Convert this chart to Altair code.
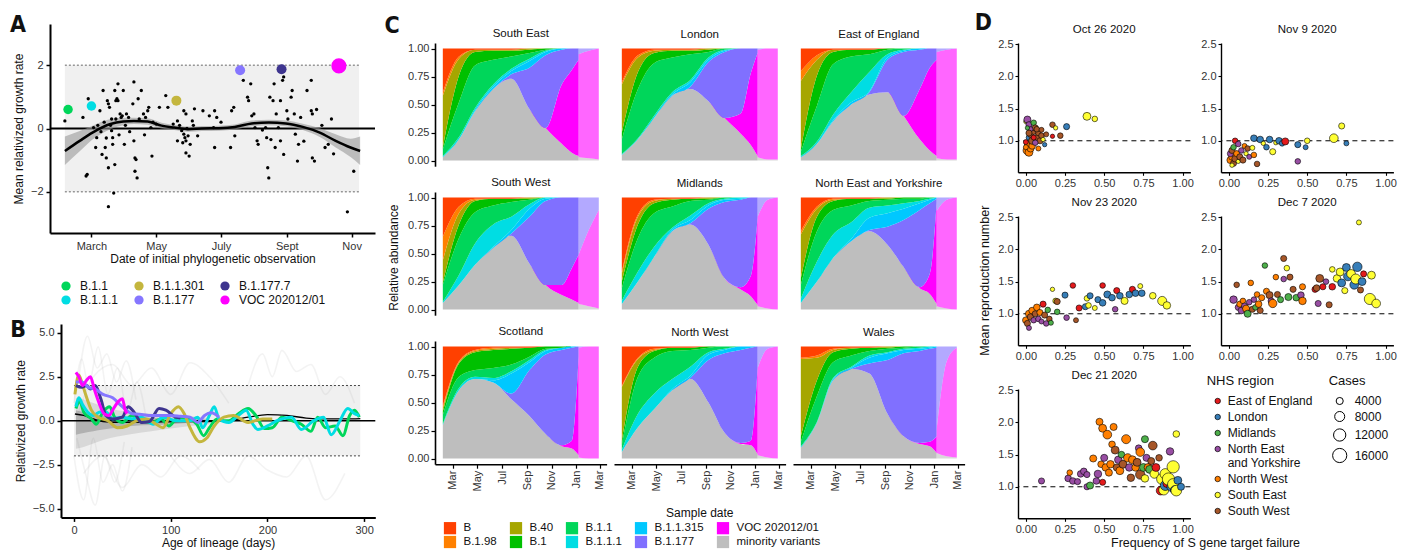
import altair as alt
import pandas as pd

FONT = "Liberation Sans"
LFONT = "'Liberation Sans Narrow', 'DejaVu Sans Condensed', 'Liberation Sans', sans-serif"
TXT = "#111111"
LAB = "#333333"

# ======================= Panel A data =======================
A_DAY = [35,52,57,55,56,62,64,65,71,68,70,73,74,75,76,77,76,76,79,81,82,83,84,85,82,80,79,80,85,87,
         88,89,91,90,93,95,99,100,100,101,102,101,103,104,107,109,111,113,114,116,117,121,124,130,132,137,141,141,145,147,
         148,149,151,147,149,149,152,155,157,160,165,175,176,178,176,191,192,194,195,203,207,208,210,211,213,214,216,217,224,225,
         226,227,228,231,232,234,233,236,238,238,240,241,241,244,248,249,251,252,254,255,263,267,267,268,268,270,280,283,286,301,307,
         66,69,72,74,78,83,86,92,96,105,110,118,143,146,150,153,156,171,182,221,229,245,257,260,272,277,288]
A_VAL = [0.24,0.35,0.94,-1.50,-1.45,0.03,-0.60,-0.29,1.20,0.56,-0.82,-0.60,-0.93,0.88,0.78,0.67,-1.24,-2.47,0.30,-2.04,
         1.20,0.88,0.94,0.88,-1.14,-0.29,-0.07,-0.50,1.41,0.46,0.35,0.40,-0.50,1.20,0.46,0.35,0.78,1.47,-0.39,-0.93,
         -0.98,-1.35,-1.56,0.94,1.20,0.46,0.35,0.56,0.67,0.03,-0.87,0.14,0.67,1.04,0.67,0.14,0.24,-0.39,-0.07,-0.18,
         -0.29,-0.39,-0.23,0.56,0.46,-0.77,-0.87,0.24,0.62,-0.23,0.56,0.03,0.56,0.35,-0.60,-0.60,0.56,0.67,-0.23,1.52,
         0.99,0.88,1.41,0.40,0.46,0.03,-0.39,-0.50,0.03,-0.29,-1.24,-1.56,0.99,0.88,1.41,0.46,-0.60,0.03,0.88,-0.39,
         1.52,1.63,-0.82,0.56,0.99,1.20,0.46,-0.18,-1.03,-0.50,1.20,1.52,0.56,0.46,-0.93,-1.03,-0.60,-0.50,0.30,-2.63,-1.35,
         0.10,-0.10,0.20,-0.30,0.10,0.30,-0.20,0.10,-0.10,0.30,-0.20,0.20,0.10,-0.45,0.00,-0.50,0.10,0.40,0.20,-0.05,
         -0.35,0.30,0.35,-0.40,0.60,0.10,-0.80]
A_BAND_DAYS = [35, 312]
FIT_DAY = [35, 49, 61, 78, 90, 100, 113, 126, 138, 151, 164, 180, 195, 211, 227, 243, 259, 275, 290, 304, 313]
FIT_VAL = [-0.71, -0.39, -0.13, 0.14, 0.22, 0.24, 0.22, 0.09, 0.03, -0.02, 0.0, 0.01, 0.05, 0.16, 0.19, 0.16, 0.05, -0.13, -0.39, -0.60, -0.71]
FIT_LO = [-1.15, -0.72, -0.35, -0.02, 0.10, 0.14, 0.12, 0.0, -0.05, -0.10, -0.08, -0.07, -0.03, 0.07, 0.10, 0.07, -0.05, -0.27, -0.60, -0.90, -1.15]
FIT_HI = [-0.25, -0.08, 0.09, 0.30, 0.34, 0.34, 0.32, 0.18, 0.11, 0.06, 0.08, 0.09, 0.13, 0.25, 0.28, 0.25, 0.15, 0.01, -0.18, -0.32, -0.25]
A_TICK_DAYS = [60, 121, 182, 244, 305]
A_TICK_LABELS = ["March", "May", "July", "Sept", "Nov"]

LIN_NAME = ["B.1.1", "B.1.1.1", "B.1.1.301", "B.1.177", "B.1.177.7", "VOC 202012/01"]
LIN_COLORS = ["#00d65a", "#00dde3", "#c4b63e", "#8676ff", "#3e358f", "#ff00ff"]
LIN_DAY = [38, 60, 140, 200, 239, 293]
LIN_VAL = [0.60, 0.71, 0.88, 1.84, 1.87, 1.98]
LIN_SIZE = [90, 90, 100, 100, 100, 230]

# ======================= Panel B data =======================
B_LINES = {
    "B.1.1": ([2,6,10,18,23,30,37,42,50,60,70,80,90,98,108,120,127,134,140,148,155,160,170,180,188,197,205,215,225,235,245,252,260,270,278,285,290,295],
              [0.7,1.1,0.5,0.1,-0.2,0.5,0.8,0.2,-0.1,0.3,0.0,-0.1,0.1,-0.3,0.2,0.1,-0.2,-0.85,-0.4,0.1,0.0,0.0,0.4,0.7,0.3,-0.45,-0.4,0.2,0.0,-0.2,-0.6,0.2,-0.4,-0.3,-0.85,0.3,0.6,0.2]),
    "B.1.1.1": ([2,5,9,14,20,27,33,40,50,60,70,82,92,105,120,128,133,140,145,150,160,170,178,185,190,200,210,225,235,248,258,266,275,283,290,295],
                [0.8,1.3,0.9,0.5,0.3,0.5,0.5,0.1,0.2,0.1,0.2,-0.2,0.2,0.0,0.0,0.2,-0.4,0.3,0.8,0.1,-0.1,0.3,0.6,-0.2,-0.5,-0.3,0.0,0.2,-0.5,0.0,0.2,-0.8,0.0,0.7,0.4,0.3]),
    "B.1.1.301": ([1,5,8,12,18,25,35,45,55,65,75,85,92,100,108,114,120,130,137,145,155,165,180,195,205],
                  [1.5,2.6,2.2,1.5,0.6,0.2,0.0,-0.4,-0.3,0.0,0.1,-0.2,-0.4,0.4,0.8,0.4,-0.4,-1.2,-1.0,-0.3,0.2,0.3,-0.1,0.1,0.1]),
    "B.1.177.7": ([2,8,13,17,22,28,33,40,50,56,62,70,78,88,95,105,110],
                  [2.0,1.9,2.0,1.8,2.0,1.2,0.3,0.1,0.2,0.8,0.5,-0.1,-0.05,0.7,0.6,0.2,0.15]),
    "B.1.177": ([2,8,15,22,30,40,50,60,70,80,90,100,110,120,128,135,142,150],
                [2.2,2.2,1.9,1.8,1.5,1.3,0.8,0.4,0.35,0.3,0.3,0.3,0.25,0.2,-0.1,0.3,0.45,0.2]),
    "VOC 202012/01": ([2,5,9,13,17,21,26,31,36,41,46,50,53,55],
                      [2.75,2.5,2.0,2.3,2.5,1.8,1.0,0.4,0.3,0.7,1.1,1.25,0.6,0.4]),
}
B_MEAN_AGE = [1, 10, 20, 30, 50, 80, 110, 140, 160, 180, 200, 220, 240, 260, 280, 296]
B_MEAN_VAL = [0.38, 0.3, 0.1, -0.05, -0.1, -0.08, -0.05, -0.05, 0.0, 0.2, 0.35, 0.3, 0.15, 0.1, 0.1, 0.12]
B_GRAY_LINES = {
    "g1": ([0,8,15,25,35,45,55,65,75], [1.0,3.5,2.0,4.2,1.5,3.0,0.5,2.2,0.0]),
    "g2": ([0,10,20,30,40,50,60], [-2.0,-4.5,-1.0,-3.5,-2.5,-4.0,-1.5]),
    "g3": ([5,20,40,60,80,100,120,140,160], [0.5,2.5,3.2,2.0,3.0,1.5,3.3,2.5,1.0]),
    "g4": ([100,120,140,160,180,200,220,240,260,280], [-2.0,-3.0,-2.2,-3.5,-2.0,-2.8,-3.2,-2.0,-4.5,-3.0]),
    "g5": ([180,195,205,215,230,245,260,275,290], [2.0,3.8,2.5,4.0,2.8,3.2,1.5,2.5,1.0]),
    "g6": ([10,30,50,70,90,110,130], [-3.0,-2.0,-3.8,-2.5,-3.2,-2.0,-2.8]),
    "g7": ([3,12,22,32,42,52], [-1.0,-3.0,-4.8,-2.0,-3.5,-1.2]),
    "g8": ([4,14,24,34,44,54,64], [2.0,4.8,3.0,3.8,2.2,3.4,1.2]),
}
B_CLOUD_AGE = [2, 10, 20, 30, 45, 60, 80, 100, 120, 140]
B_CLOUD_LO = [-1.6, -1.5, -1.3, -1.1, -0.9, -0.75, -0.6, -0.45, -0.3, -0.2]
B_CLOUD_HI = [1.3, 1.2, 1.0, 0.8, 0.6, 0.5, 0.4, 0.3, 0.25, 0.15]
B_CORE_LO = [-0.8, -0.7, -0.6, -0.5, -0.4, -0.3, -0.25, -0.2, -0.12, -0.08]
B_CORE_HI = [0.6, 0.5, 0.4, 0.3, 0.22, 0.18, 0.15, 0.12, 0.1, 0.06]
B_BAND_AGES = [0, 296]

# ======================= Panel C data =======================
C_REGIONS = ["South East", "London", "East of England", "South West", "Midlands",
             "North East and Yorkshire", "Scotland", "North West", "Wales"]
C_STACK = ["minority variants", "VOC 202012/01", "B.1.177", "B.1.1.315", "B.1.1.1",
           "B.1.1", "B.1", "B.40", "B.1.98", "B"]
C_LEGEND_ORDER = ["B", "B.1.98", "B.40", "B.1", "B.1.1", "B.1.1.1", "B.1.1.315",
                  "B.1.177", "VOC 202012/01", "minority variants"]
C_LEGEND_COLORS = ["#ff4000", "#ff8000", "#a6a600", "#00c000", "#00d65a", "#00dde3",
                   "#00c8ff", "#8070ff", "#ff00ff", "#bebebe"]
C_T_OBS = [35, 75, 115, 160, 205, 250, 290, 330, 355, 372]
C_T_PROJ = [372, 397, 422]
C_TICK_DAYS = [60, 121, 182, 244, 305, 366, 425]
C_TICK_LABELS = ["Mar", "May", "Jul", "Sep", "Nov", "Jan", "Mar"]

C_SHARES = {
    "South East": {
        "B": [39,7,1,1,1,0,0,0,0,0], "B.1.98": [3,2,0,0,0,0,0,0,0,0], "B.40": [46,15,2,1,1,1,0,0,0,0],
        "B.1": [2,24,12,8,5,3,1,0,0,0], "B.1.1": [6,31,38,22,11,5,1,0,0,0], "B.1.1.1": [1,2,2,2,2,2,1,0,0,0],
        "B.1.1.315": [0,0,1,2,3,6,3,1,0,0], "B.1.177": [0,0,0,0,4,37,65,31,19,10],
        "VOC 202012/01": [0,0,0,0,0,0,0,53,74,86], "minority variants": [3,19,44,64,73,46,29,15,7,4]},
    "London": {
        "B": [30,6,1,1,1,0,0,0,0,0], "B.1.98": [2,2,1,0,0,0,0,0,0,0], "B.40": [43,13,2,1,1,1,0,0,0,0],
        "B.1": [6,15,9,6,3,2,0,0,0,0], "B.1.1": [13,44,47,31,23,5,1,0,0,0], "B.1.1.1": [1,1,2,2,2,2,1,0,0,0],
        "B.1.1.315": [0,0,0,1,4,2,1,0,0,0], "B.1.177": [0,0,0,0,2,35,59,58,22,4],
        "VOC 202012/01": [0,0,0,0,0,0,0,18,64,92], "minority variants": [5,19,38,58,64,53,38,24,14,4]},
    "East of England": {
        "B": [20,6,1,1,1,0,0,0,0,0], "B.1.98": [9,4,0,0,0,0,0,0,0,0], "B.40": [61,14,2,0,0,0,0,0,0,0],
        "B.1": [2,27,11,6,4,1,0,0,0,0], "B.1.1": [4,32,45,32,16,4,1,0,0,0], "B.1.1.1": [1,2,5,9,17,3,1,0,0,0],
        "B.1.1.315": [0,0,1,2,1,2,1,1,0,0], "B.1.177": [0,0,0,0,2,29,57,35,17,10],
        "VOC 202012/01": [0,0,0,0,0,0,0,45,74,86], "minority variants": [3,15,35,50,59,61,40,19,9,4]},
    "South West": {
        "B": [35,8,1,1,1,0,0,0,0,0], "B.1.98": [21,6,1,0,0,0,0,0,0,0], "B.40": [20,10,1,0,0,1,0,0,0,0],
        "B.1": [2,12,10,6,3,1,0,0,0,0], "B.1.1": [15,33,28,17,13,4,0,0,0,0], "B.1.1.1": [1,9,19,20,12,4,1,0,0,0],
        "B.1.1.315": [0,0,0,1,3,7,2,0,0,0], "B.1.177": [0,0,0,0,2,42,75,78,63,51],
        "VOC 202012/01": [0,0,0,0,0,0,0,9,28,43], "minority variants": [6,22,40,55,66,41,22,13,9,6]},
    "Midlands": {
        "B": [66,15,2,1,1,0,0,0,0,0], "B.1.98": [2,2,1,0,0,0,0,0,0,0], "B.40": [7,7,2,1,0,1,0,0,0,0],
        "B.1": [6,12,9,6,2,1,0,0,0,0], "B.1.1": [11,30,30,19,13,3,1,0,0,0], "B.1.1.1": [3,9,9,2,4,2,1,1,0,0],
        "B.1.1.315": [0,0,0,1,3,3,2,1,0,0], "B.1.177": [0,0,0,0,1,32,68,78,70,18],
        "VOC 202012/01": [0,0,0,0,0,0,0,2,18,78], "minority variants": [5,25,47,70,76,58,28,18,12,4]},
    "North East and Yorkshire": {
        "B": [30,8,1,1,1,0,0,0,0,0], "B.1.98": [3,2,1,0,0,0,0,0,0,0], "B.40": [39,7,1,0,0,1,0,0,0,0],
        "B.1": [6,13,8,6,2,1,1,1,0,0], "B.1.1": [12,27,22,15,6,5,4,2,1,0], "B.1.1.1": [4,18,21,15,9,7,5,2,1,0],
        "B.1.1.315": [0,0,0,2,11,12,10,6,3,1], "B.1.177": [0,0,0,0,1,16,42,69,63,4],
        "VOC 202012/01": [0,0,0,0,0,0,0,1,18,90], "minority variants": [6,25,46,61,70,58,38,19,14,5]},
    "Scotland": {
        "B": [53,13,3,1,1,1,0,0,0,0], "B.1.98": [2,1,1,1,0,0,0,0,0,0], "B.40": [3,1,1,1,1,0,0,0,0,0],
        "B.1": [3,12,16,16,14,8,2,1,0,0], "B.1.1": [8,10,6,9,6,3,1,0,0,0], "B.1.1.1": [1,2,2,2,2,2,1,0,0,0],
        "B.1.1.315": [0,0,0,2,18,7,3,2,1,0], "B.1.177": [0,0,0,0,5,41,71,85,83,9],
        "VOC 202012/01": [0,0,0,0,0,0,0,1,7,88], "minority variants": [30,61,71,68,53,38,22,11,9,3]},
    "North West": {
        "B": [35,10,2,1,1,0,0,0,0,0], "B.1.98": [1,1,1,0,0,0,0,0,0,0], "B.40": [48,7,1,0,0,0,0,0,0,0],
        "B.1": [4,9,6,3,2,1,0,0,0,0], "B.1.1": [4,33,32,25,15,4,2,0,0,0], "B.1.1.1": [2,12,14,9,8,2,1,0,0,0],
        "B.1.1.315": [0,0,0,1,2,5,3,3,1,0], "B.1.177": [0,0,0,0,1,38,71,83,83,19],
        "VOC 202012/01": [0,0,0,0,0,0,0,1,4,77], "minority variants": [6,28,44,61,71,50,23,13,12,4]},
    "Wales": {
        "B": [10,8,2,1,1,0,0,0,0,0], "B.1.98": [1,2,1,0,0,0,0,0,0,0], "B.40": [69,20,2,1,0,1,0,0,0,0],
        "B.1": [5,14,9,6,3,1,1,0,0,0], "B.1.1": [4,23,14,10,4,3,1,1,0,0], "B.1.1.1": [1,1,1,1,2,1,1,1,1,0],
        "B.1.1.315": [0,0,1,1,5,6,3,2,1,1], "B.1.177": [0,0,0,0,9,48,74,82,83,79],
        "VOC 202012/01": [0,0,0,0,0,0,0,1,4,15], "minority variants": [10,32,70,80,76,40,20,13,11,5]},
}
C_PROJ = {
    "South East": {"minority variants": [3,2,1], "VOC 202012/01": [92,96,99], "B.1.177": [5,2,0]},
    "London": {"minority variants": [3,1,1], "VOC 202012/01": [96,99,99], "B.1.177": [1,0,0]},
    "East of England": {"minority variants": [2,1,1], "VOC 202012/01": [95,98,99], "B.1.177": [3,1,0]},
    "South West": {"minority variants": [5,3,1], "VOC 202012/01": [44,68,88], "B.1.177": [51,29,11]},
    "Midlands": {"minority variants": [3,1,0], "VOC 202012/01": [80,97,100], "B.1.177": [17,2,0]},
    "North East and Yorkshire": {"minority variants": [3,1,0], "VOC 202012/01": [85,97,100], "B.1.177": [12,2,0]},
    "Scotland": {"minority variants": [1,0,0], "VOC 202012/01": [98,100,100], "B.1.177": [1,0,0]},
    "North West": {"minority variants": [3,1,0], "VOC 202012/01": [78,97,100], "B.1.177": [19,2,0]},
    "Wales": {"minority variants": [5,2,1], "VOC 202012/01": [20,85,98], "B.1.177": [75,13,1]},
}

# ======================= Panel D data =======================
D_REGION_CODES = {"E": "East of England", "L": "London", "M": "Midlands", "N": "North East and Yorkshire",
                  "W": "North West", "S": "South East", "SW": "South West"}
D_REGION_ORDER = ["East of England", "London", "Midlands", "North East and Yorkshire",
                  "North West", "South East", "South West"]
D_REGION_COLORS = ["#e41a1c", "#377eb8", "#4daf4a", "#984ea3", "#ff7f00", "#ffff33", "#a65628"]
D_CASE_TICKS = [4000, 8000, 12000, 16000]
D_POINTS = {
    "Oct 26 2020": [(0.00,1.30,"S",1500),(0.01,1.33,"N",4000),(0.02,1.25,"N",3000),(0.05,1.28,"M",2500),
        (0.01,0.85,"W",6000),(0.02,0.82,"W",5000),(0.03,0.88,"W",4000),(0.01,0.95,"W",3000),(0.04,0.92,"W",3500),
        (0.00,0.98,"E",2000),(0.02,1.05,"L",2500),(0.03,1.10,"SW",3000),(0.05,1.15,"SW",3500),(0.06,1.20,"SW",3000),
        (0.07,1.05,"SW",3000),(0.08,1.12,"SW",2500),(0.09,1.00,"SW",3000),(0.10,1.08,"SW",2500),(0.04,1.00,"SW",4000),
        (0.06,0.97,"N",2500),(0.03,1.18,"N",2000),(0.02,1.12,"SW",3000),(0.05,1.05,"E",2000),(0.07,1.18,"SW",2500),
        (0.11,1.02,"S",1500),(0.12,0.94,"L",1500),(0.13,1.10,"SW",2000),(0.17,1.07,"E",1500),(0.17,1.25,"SW",2500),
        (0.19,1.20,"S",1500),(0.22,1.08,"SW",2500),(0.26,1.22,"L",3000),(0.39,1.38,"S",5000),(0.44,1.34,"S",2500),
        (0.00,0.90,"W",2000),(0.08,0.88,"W",2000),(0.01,1.20,"M",1500),(0.10,1.17,"SW",2000)],
    "Nov 9 2020": [(0.01,0.70,"W",4000),(0.02,0.75,"W",3500),(0.01,0.80,"N",3000),(0.03,0.65,"SW",3000),
        (0.02,0.85,"SW",3000),(0.04,0.72,"SW",3500),(0.05,0.80,"W",3000),(0.03,0.90,"M",2500),(0.04,1.00,"E",2500),
        (0.06,0.68,"S",1500),(0.07,0.75,"SW",3000),(0.08,0.85,"N",2500),(0.09,0.70,"SW",3000),(0.10,0.92,"W",2000),
        (0.11,0.80,"S",1500),(0.12,0.88,"SW",2500),(0.02,0.62,"S",1500),(0.06,0.95,"N",2500),(0.13,0.75,"N",2000),
        (0.15,0.89,"S",2000),(0.16,0.78,"W",2500),(0.16,1.04,"L",3500),(0.18,0.64,"SW",2500),(0.20,1.02,"L",3500),
        (0.22,0.96,"S",1500),(0.24,0.90,"L",2500),(0.26,1.02,"L",3500),(0.28,0.83,"S",3000),(0.30,0.97,"S",1500),
        (0.32,1.00,"L",3500),(0.34,0.96,"L",2500),(0.36,0.99,"E",4000),(0.44,0.94,"L",3000),(0.44,0.68,"N",2500),
        (0.49,0.90,"L",2000),(0.50,1.00,"S",2500),(0.67,1.04,"S",6000),(0.72,1.23,"S",3000),(0.75,0.96,"L",2000)],
    "Nov 23 2020": [(0.00,0.90,"W",3500),(0.01,0.85,"SW",3000),(0.02,1.00,"W",4000),(0.03,0.95,"SW",3500),
        (0.04,1.05,"W",3500),(0.05,0.90,"N",2500),(0.02,0.78,"N",2000),(0.06,1.00,"SW",3000),(0.07,1.10,"W",3500),
        (0.08,0.92,"N",2500),(0.09,1.02,"W",3000),(0.10,0.88,"N",2000),(0.11,1.15,"E",3000),(0.12,0.98,"SW",3000),
        (0.13,0.85,"N",2500),(0.14,1.06,"M",2500),(0.15,0.92,"SW",2500),(0.16,0.86,"M",2000),(0.17,1.38,"S",1500),
        (0.19,1.20,"S",2500),(0.20,1.19,"SW",3000),(0.20,1.03,"M",2500),(0.25,1.29,"L",3000),(0.26,0.94,"N",2500),
        (0.30,1.44,"E",2500),(0.32,0.90,"SW",2000),(0.34,1.09,"E",3000),(0.38,1.11,"L",3000),(0.39,1.24,"S",2500),
        (0.40,1.13,"S",2500),(0.41,1.28,"L",3000),(0.44,1.09,"S",2000),(0.46,1.22,"L",3000),(0.49,1.44,"E",2500),
        (0.49,1.17,"L",3500),(0.52,1.30,"L",4000),(0.55,1.25,"L",3500),(0.57,1.07,"N",2500),(0.58,1.36,"E",3000),
        (0.60,1.28,"L",3500),(0.63,1.20,"S",4000),(0.66,1.30,"L",3500),(0.68,1.38,"E",3000),(0.70,1.32,"L",3500),
        (0.73,1.43,"S",2000),(0.74,1.32,"L",3500),(0.81,1.28,"S",3500),(0.87,1.20,"S",6500),(0.90,1.13,"S",4500)],
    "Dec 7 2020": [(0.03,1.22,"N",4500),(0.05,1.45,"SW",2500),(0.06,1.10,"N",3000),(0.07,1.15,"W",3000),
        (0.08,1.05,"N",3500),(0.09,1.20,"W",2500),(0.10,1.12,"N",3000),(0.11,1.08,"W",4000),(0.12,1.00,"M",4000),
        (0.13,1.18,"N",2500),(0.14,1.48,"W",2500),(0.15,1.07,"SW",3000),(0.16,1.22,"N",2500),(0.17,1.10,"M",2500),
        (0.18,1.30,"W",2500),(0.19,1.15,"W",3500),(0.20,1.05,"SW",3000),(0.21,1.25,"W",3000),(0.23,1.75,"M",2500),
        (0.24,1.35,"W",3000),(0.26,1.29,"SW",4000),(0.27,1.20,"N",3000),(0.28,1.16,"W",5500),(0.30,1.57,"W",2500),
        (0.31,1.30,"SW",3000),(0.33,1.22,"M",3000),(0.35,1.86,"SW",3000),(0.35,1.54,"N",2500),(0.37,1.71,"S",2500),
        (0.38,1.26,"M",4000),(0.39,1.57,"SW",3000),(0.41,1.38,"SW",3000),(0.43,1.25,"M",3500),(0.46,1.29,"N",3500),
        (0.47,1.42,"W",3000),(0.47,1.20,"W",4500),(0.55,1.38,"E",3000),(0.56,1.40,"SW",3500),(0.57,1.16,"N",3000),
        (0.58,1.55,"SW",5000),(0.60,1.42,"E",3000),(0.62,1.50,"N",2500),(0.64,1.14,"SW",3000),(0.66,1.69,"S",2500),
        (0.66,1.42,"E",3500),(0.69,1.55,"S",4500),(0.71,1.65,"S",5000),(0.72,1.48,"L",5000),(0.74,1.36,"S",3000),
        (0.75,1.72,"L",5000),(0.76,1.58,"L",6000),(0.78,1.62,"S",6000),(0.80,1.45,"L",6000),(0.81,1.54,"S",8000),
        (0.82,1.73,"L",7000),(0.83,2.42,"S",2000),(0.84,1.37,"SW",3000),(0.85,1.50,"L",5000),(0.86,1.62,"E",3000),
        (0.90,1.23,"S",10000),(0.91,1.60,"S",5000),(0.94,1.16,"S",6000)],
    "Dec 21 2020": [(0.10,1.09,"N",3000),(0.27,1.13,"N",3500),(0.28,1.22,"W",2500),(0.30,1.09,"N",3500),
        (0.33,1.08,"N",3000),(0.35,1.20,"N",3500),(0.37,1.24,"N",3500),(0.39,1.00,"N",3000),(0.39,1.19,"N",3000),
        (0.41,1.02,"M",4000),(0.43,1.44,"W",4000),(0.45,1.09,"N",3500),(0.46,1.20,"N",4500),(0.47,2.01,"W",4000),
        (0.48,1.35,"W",3500),(0.49,1.07,"E",3000),(0.49,1.91,"W",5000),(0.50,1.45,"N",4000),(0.51,1.30,"W",4500),
        (0.52,1.81,"W",6000),(0.53,1.22,"W",4000),(0.54,1.35,"W",4500),(0.55,1.66,"W",3500),(0.56,1.93,"W",4000),
        (0.57,1.57,"SW",5000),(0.58,1.30,"SW",4000),(0.59,1.42,"N",4500),(0.60,1.25,"W",5000),(0.61,1.50,"M",3500),
        (0.62,1.35,"SW",5000),(0.64,1.74,"W",6500),(0.65,1.45,"W",5500),(0.66,1.30,"N",4500),(0.67,1.14,"SW",4500),
        (0.68,1.42,"W",5000),(0.70,1.30,"W",4500),(0.71,1.38,"SW",5000),(0.72,1.60,"N",3500),(0.73,1.54,"W",6000),
        (0.73,1.19,"SW",7000),(0.75,1.30,"M",5000),(0.76,1.13,"S",4500),(0.76,1.74,"M",4000),(0.77,1.45,"N",4000),
        (0.78,1.30,"W",5000),(0.79,1.27,"M",5000),(0.80,1.40,"SW",4000),(0.81,1.64,"SW",6000),(0.82,1.20,"S",6000),
        (0.83,1.30,"E",5000),(0.85,1.45,"SW",3500),(0.86,0.94,"E",6000),(0.87,1.12,"S",10000),(0.88,0.95,"S",8000),
        (0.89,1.02,"L",8000),(0.89,1.20,"S",9000),(0.90,1.05,"E",5000),(0.91,1.12,"S",12000),(0.92,1.55,"N",4500),
        (0.93,1.00,"L",7000),(0.94,1.31,"S",12000),(0.94,1.04,"S",10000),(0.95,0.95,"L",6000),(0.96,0.94,"S",9000),
        (0.96,1.82,"S",3500),(0.97,1.10,"L",5000),(0.99,1.00,"L",4000)],
}

# ======================= helpers =======================
def mkaxis(**kw):
    base = dict(domainColor="black", tickColor="black", labelColor=LAB, titleColor=TXT,
                labelFont=FONT, titleFont=FONT, labelFontSize=11, titleFontSize=12,
                titleFontWeight="normal", grid=False)
    base.update(kw)
    return alt.Axis(**base)


def label_expr(vals, labels):
    s = "''"
    for v, l in reversed(list(zip(vals, labels))):
        s = f"datum.value == {v} ? '{l}' : ({s})"
    return s


def text_layer(txt, x, y, size=12, angle=0, weight="normal", font=FONT, align="center", baseline="middle"):
    kw = dict(fontSize=size, font=font, fontWeight=weight, align=align, baseline=baseline, color=TXT)
    if angle:
        kw["angle"] = angle
    return alt.Chart(pd.DataFrame({"t": [txt]})).mark_text(**kw).encode(
        text="t:N", x=alt.value(x), y=alt.value(y))


def spacer(w=1, h=1, texts=()):
    base = alt.Chart(pd.DataFrame({"v": [0]})).mark_point(opacity=0, size=1).encode(
        x=alt.value(0), y=alt.value(0))
    if texts:
        return alt.layer(base, *texts).properties(width=w, height=h)
    return base.properties(width=w, height=h)


def indep(c):
    return c.resolve_scale(color="independent", size="independent").resolve_legend(
        color="independent", size="independent")

# ======================= Panel A =======================
xA = alt.Scale(domain=[21, 327], nice=False, zero=False)
yA = alt.Scale(domain=[-3.3, 3.3], nice=False, zero=False)
AX_A = mkaxis(values=A_TICK_DAYS, labelExpr=label_expr(A_TICK_DAYS, A_TICK_LABELS),
              title="Date of initial phylogenetic observation", domainWidth=2, tickWidth=1.5,
              tickSize=4, labelPadding=3, titlePadding=2)
AY_A = mkaxis(values=[-2, 0, 2], format=".0f", title="Mean relativized growth rate",
              domainWidth=2, tickWidth=1.5, tickSize=4, labelPadding=3, titlePadding=5)


def XA(f):
    return alt.X(f, type="quantitative", scale=xA, axis=AX_A)


def YA(f):
    return alt.Y(f, type="quantitative", scale=yA, axis=AY_A)


a_pts = pd.DataFrame({"day": A_DAY, "val": A_VAL})
a_fit = pd.DataFrame({"day": FIT_DAY, "val": FIT_VAL, "lo": FIT_LO, "hi": FIT_HI})
a_band = pd.DataFrame({"x": [A_BAND_DAYS[0]], "x2": [A_BAND_DAYS[1]], "lo": [-2], "hi": [2]})
a_dots = pd.DataFrame({"x": [A_BAND_DAYS[0]] * 2, "x2": [A_BAND_DAYS[1]] * 2, "y": [-2, 2]})
a_lin = pd.DataFrame({"lineage": LIN_NAME, "day": LIN_DAY, "val": LIN_VAL, "sz": LIN_SIZE})

lin_scale = alt.Scale(domain=LIN_NAME, range=LIN_COLORS)
lin_legend = alt.Legend(title=None, orient="none", legendX=10, legendY=256, columns=3,
                        symbolType="circle", symbolSize=85, symbolStrokeWidth=0, labelFont=FONT,
                        labelFontSize=12, labelColor=TXT, columnPadding=14, rowPadding=2,
                        labelOffset=8, padding=0, symbolOpacity=1)

chartA = alt.layer(
    alt.Chart(a_band).mark_rect(color="#f0f0f0").encode(x=XA("x"), x2="x2", y=YA("lo"), y2="hi"),
    alt.Chart(a_dots).mark_rule(color="#666666", strokeDash=[2, 2], strokeWidth=1).encode(x=XA("x"), x2="x2", y=YA("y")),
    alt.Chart(pd.DataFrame({"y": [0]})).mark_rule(color="black", strokeWidth=2).encode(y=YA("y")),
    alt.Chart(a_fit).mark_area(color="#9a9a9a", opacity=0.6, interpolate="monotone").encode(x=XA("day"), y=YA("lo"), y2="hi"),
    alt.Chart(a_fit).mark_line(color="black", strokeWidth=2.5, interpolate="monotone").encode(x=XA("day"), y=YA("val")),
    alt.Chart(a_pts).mark_circle(color="black", size=11, opacity=1).encode(x=XA("day"), y=YA("val")),
    alt.Chart(a_lin).mark_circle(opacity=1).encode(
        x=XA("day"), y=YA("val"),
        color=alt.Color("lineage:N", scale=lin_scale, legend=lin_legend),
        size=alt.Size("sz:Q", scale=None, legend=None)),
    text_layer("A", -40, -10.3, size=23, weight="bold", font=LFONT, align="left", baseline="top"),
).properties(width=325, height=209)

# ======================= Panel B =======================
xB = alt.Scale(domain=[-13.4, 311.5], nice=False, zero=False)
yB = alt.Scale(domain=[-5.5, 5.5], nice=False, zero=False)
AX_B = mkaxis(values=[0, 100, 200, 300], format="d", title="Age of lineage (days)", domainWidth=2,
              tickWidth=1.5, tickSize=4, labelPadding=3, titlePadding=2)
AY_B = mkaxis(values=[-5, -2.5, 0, 2.5, 5], format=".1f", title="Relativized growth rate",
              domainWidth=2, tickWidth=1.5, tickSize=4, labelPadding=3, titlePadding=5)


def XB(f):
    return alt.X(f, type="quantitative", scale=xB, axis=AX_B)


def YB(f):
    return alt.Y(f, type="quantitative", scale=yB, axis=AY_B)


b_rows = []
for name, (ages, vals) in B_LINES.items():
    for a, v in zip(ages, vals):
        b_rows.append((name, a, v))
b_lines = pd.DataFrame(b_rows, columns=["lineage", "age", "val"])
g_rows = []
for gid, (ages, vals) in B_GRAY_LINES.items():
    for a, v in zip(ages, vals):
        g_rows.append((gid, a, v))
b_gray = pd.DataFrame(g_rows, columns=["gid", "age", "val"])
b_cloud = pd.DataFrame({"age": B_CLOUD_AGE, "lo": B_CLOUD_LO, "hi": B_CLOUD_HI,
                        "clo": B_CORE_LO, "chi": B_CORE_HI})
b_mean = pd.DataFrame({"age": B_MEAN_AGE, "val": B_MEAN_VAL})
b_band = pd.DataFrame({"x": [B_BAND_AGES[0]], "x2": [B_BAND_AGES[1]], "lo": [-2], "hi": [2]})
b_dots = pd.DataFrame({"x": [B_BAND_AGES[0]] * 2, "x2": [B_BAND_AGES[1]] * 2, "y": [-2, 2]})

chartB = alt.layer(
    alt.Chart(b_band).mark_rect(color="#f0f0f0").encode(x=XB("x"), x2="x2", y=YB("lo"), y2="hi"),
    alt.Chart(b_gray).mark_line(color="#999999", opacity=0.12, strokeWidth=1.6, interpolate="monotone").encode(
        x=XB("age"), y=YB("val"), detail="gid:N"),
    alt.Chart(b_cloud).mark_area(color="#777777", opacity=0.2, interpolate="monotone").encode(x=XB("age"), y=YB("lo"), y2="hi"),
    alt.Chart(b_cloud).mark_area(color="#555555", opacity=0.3, interpolate="monotone").encode(x=XB("age"), y=YB("clo"), y2="chi"),
    alt.Chart(b_dots).mark_rule(color="#444444", strokeDash=[2, 2], strokeWidth=1).encode(x=XB("x"), x2="x2", y=YB("y")),
    alt.Chart(pd.DataFrame({"y": [0]})).mark_rule(color="black", strokeWidth=1.6).encode(y=YB("y")),
    alt.Chart(b_mean).mark_line(color="black", strokeWidth=1.3, interpolate="monotone").encode(x=XB("age"), y=YB("val")),
    alt.Chart(b_lines).mark_line(strokeWidth=3, interpolate="monotone").encode(
        x=XB("age"), y=YB("val"),
        color=alt.Color("lineage:N", scale=lin_scale, legend=None),
        order=alt.Order("age:Q")),
    text_layer("B", -50.7, -5.3, size=23, weight="bold", font=LFONT, align="left", baseline="top"),
).properties(width=314.3, height=193.4)

# ======================= Panel C =======================
c_rows = []
for reg in C_REGIONS:
    for k, cat in enumerate(C_STACK):
        for t, v in zip(C_T_OBS, C_SHARES[reg][cat]):
            c_rows.append((reg, "obs", cat, k, t, v))
        pv = C_PROJ[reg].get(cat, [0] * len(C_T_PROJ))
        for t, v in zip(C_T_PROJ, pv):
            c_rows.append((reg, "proj", cat, k, t, v))
cdf = pd.DataFrame(c_rows, columns=["region", "phase", "cat", "ord", "day", "share"])

xC = alt.Scale(domain=[15.6, 441.4], nice=False, zero=False)
yC = alt.Scale(domain=[-0.05, 1.05], nice=False, zero=False)
cC = alt.Scale(domain=C_LEGEND_ORDER, range=C_LEGEND_COLORS)
C_XAX = mkaxis(values=C_TICK_DAYS, labelExpr=label_expr(C_TICK_DAYS, C_TICK_LABELS), labelAngle=270,
               title=None, domainWidth=1.6, tickWidth=1.2, tickSize=4, labelPadding=2)
C_YAX = mkaxis(values=[0, 0.25, 0.5, 0.75, 1], labelExpr="format(datum.value, '.2f')", title=None,
               domainWidth=1.6, tickWidth=1.2, tickSize=4, labelPadding=2)
C_LEGEND = alt.Legend(title=None, orient="none", legendX=8.5, legendY=180.5, columns=5,
                      symbolType="square", symbolSize=150, symbolStrokeWidth=0, symbolOpacity=1,
                      labelFont=FONT, labelFontSize=11.5, labelColor=TXT, columnPadding=12,
                      rowPadding=1, labelOffset=7, padding=0)
C_W, C_H = 171.6, 123.2


def c_panel(reg, row, col):
    d = cdf[cdf.region == reg]
    x = alt.X("day:Q", scale=xC, axis=C_XAX if row == 2 else None)
    y = alt.Y("share:Q", stack="normalize", scale=yC, axis=C_YAX if col == 0 else None)
    leg = C_LEGEND if reg == "Scotland" else None
    color = alt.Color("cat:N", scale=cC, legend=leg)
    base = alt.Chart(d)
    layers = [
        base.transform_filter(alt.datum.phase == "obs").mark_area(interpolate="monotone").encode(
            x=x, y=y, color=color, order=alt.Order("ord:Q")),
        base.transform_filter(alt.datum.phase == "proj").mark_area(interpolate="monotone", opacity=0.6).encode(
            x=x, y=y, color=color, order=alt.Order("ord:Q")),
    ]
    return alt.layer(*layers).properties(
        width=C_W, height=C_H,
        title=alt.TitleParams(reg, fontSize=11.5, font=FONT, fontWeight="normal", color=TXT, offset=3))


grid = [[c_panel(C_REGIONS[r * 3 + c], r, c) for c in range(3)] for r in range(3)]
C_TOP_TEXTS = [
    [text_layer("C", -50.6, -9.3, size=23, weight="bold", font=LFONT, align="left", baseline="top"),
     text_layer("Relative abundance", -40.7, 233.7, size=12, angle=270)],
    [text_layer("Sample date", C_W / 2, 489.4, size=12)],
    [],
]
cols_C = []
for c in range(3):
    cols_C.append(indep(alt.vconcat(spacer(1, 18.4, C_TOP_TEXTS[c]), grid[0][c], spacer(1, 24.8), grid[1][c],
                                     spacer(1, 24.8), grid[2][c], bounds="flush", spacing=0)))

# ======================= Panel D =======================
xD = alt.Scale(domain=[-0.05, 1.05], nice=False, zero=False)
yD = alt.Scale(domain=[0.51, 2.52], nice=False, zero=False)
cD = alt.Scale(domain=D_REGION_ORDER, range=D_REGION_COLORS)
sD = alt.Scale(type="linear", domain=[0, 16000], range=[0, 201])
D_XAX = mkaxis(values=[0, 0.25, 0.5, 0.75, 1], format=".2f", title=None, domainWidth=1.4,
               tickWidth=1.1, tickSize=3, labelPadding=2)
D_YAX = mkaxis(values=[1, 1.5, 2, 2.5], format=".1f", title=None, domainWidth=1.4,
               tickWidth=1.1, tickSize=3, labelPadding=2)
D_W, D_H = 172.4, 129.3
REG_LEGEND = alt.Legend(title="NHS region", orient="none", legendX=-14.3, legendY=-14,
                        titleFont=FONT, titleFontSize=13, titleFontWeight="normal", titleColor=TXT,
                        labelFont=FONT, labelFontSize=12, labelColor=TXT, symbolType="circle",
                        symbolSize=30, symbolStrokeColor="black", symbolStrokeWidth=0.7, symbolOpacity=1,
                        symbolOffset=5, labelOffset=4, rowPadding=4, titlePadding=7, padding=0,
                        labelExpr="datum.label == 'North East and Yorkshire' ? ['North East', 'and Yorkshire'] : datum.label")
SIZE_LEGEND = alt.Legend(title="Cases", orient="none", legendX=107.7, legendY=-14, values=D_CASE_TICKS,
                         format="d", titleFont=FONT, titleFontSize=13, titleFontWeight="normal", titleColor=TXT,
                         labelFont=FONT, labelFontSize=12, labelColor=TXT, symbolType="circle",
                         symbolStrokeColor="black", symbolStrokeWidth=1,
                         symbolOpacity=1, symbolOffset=3, labelOffset=7, rowPadding=1.5, titlePadding=7,
                         padding=0)


def d_panel(name):
    pts = D_POINTS[name]
    d = pd.DataFrame({"freq": [p[0] for p in pts], "r": [p[1] for p in pts],
                      "region": [D_REGION_CODES[p[2]] for p in pts], "cases": [p[3] for p in pts]})
    x = alt.X("freq:Q", scale=xD, axis=D_XAX)
    y = alt.Y("r:Q", scale=yD, axis=D_YAX)
    layers = [
        alt.Chart(pd.DataFrame({"r": [1.0]})).mark_rule(color="black", strokeDash=[5, 4], strokeWidth=1).encode(y=y),
        alt.Chart(d).mark_circle(opacity=1, stroke="black", strokeWidth=0.6).encode(
            x=x, y=y,
            color=alt.Color("region:N", scale=cD, legend=None),
            size=alt.Size("cases:Q", scale=sD, legend=None)),
    ]
    return alt.layer(*layers).properties(
        width=D_W, height=D_H,
        title=alt.TitleParams(name, fontSize=11.5, font=FONT, fontWeight="normal", color=TXT, offset=3))


d_legend_chart = alt.layer(
    alt.Chart(pd.DataFrame({"region": D_REGION_ORDER})).mark_point(
        shape="circle", filled=True, opacity=0, stroke="black", strokeWidth=0.7).encode(
        x=alt.value(0), y=alt.value(0), color=alt.Color("region:N", scale=cD, legend=REG_LEGEND)),
    alt.Chart(pd.DataFrame({"cases": D_CASE_TICKS})).mark_point(
        shape="circle", filled=False, color="black", strokeWidth=1, opacity=0).encode(
        x=alt.value(0), y=alt.value(0), size=alt.Size("cases:Q", scale=sD, legend=SIZE_LEGEND)),
).properties(width=D_W, height=D_H)

D_TOP_TEXTS = [
    text_layer("D", -43.3, -11.6, size=23, weight="bold", font=LFONT, align="left", baseline="top"),
    text_layer("Mean reproduction number", -33.3, 256.7, size=12.5, angle=270),
    text_layer("Frequency of S gene target failure", 187.5, 519.4, size=12.5),
]
colD1 = indep(alt.vconcat(spacer(1, 18.4, D_TOP_TEXTS), d_panel("Oct 26 2020"), spacer(1, 42.5), d_panel("Nov 23 2020"),
                          spacer(1, 42.5), d_panel("Dec 21 2020"), bounds="flush", spacing=0))
colD2 = indep(alt.vconcat(spacer(1, 18.4), d_panel("Nov 9 2020"), spacer(1, 42.5), d_panel("Dec 7 2020"),
                          spacer(1, 42.5), d_legend_chart, bounds="flush", spacing=0))

# ======================= assemble =======================
colAB = indep(alt.vconcat(chartA, spacer(1, 91),
                          indep(alt.hconcat(spacer(10.7, 1), chartB, bounds="flush", spacing=0)),
                          bounds="flush", spacing=0))

chart = indep(alt.hconcat(colAB, spacer(384.2, 1), cols_C[0], spacer(178.3, 1), cols_C[1],
                          spacer(178.3, 1), cols_C[2], spacer(224.2, 1), colD1, spacer(202.3, 1), colD2,
                          bounds="flush", spacing=0)).properties(
    padding={"left": 2, "top": 4, "right": 2, "bottom": 2}, background="white"
).configure(font=FONT).configure_view(stroke=None)

chart.save("out.html", embed_options={"renderer": "svg", "actions": False})
